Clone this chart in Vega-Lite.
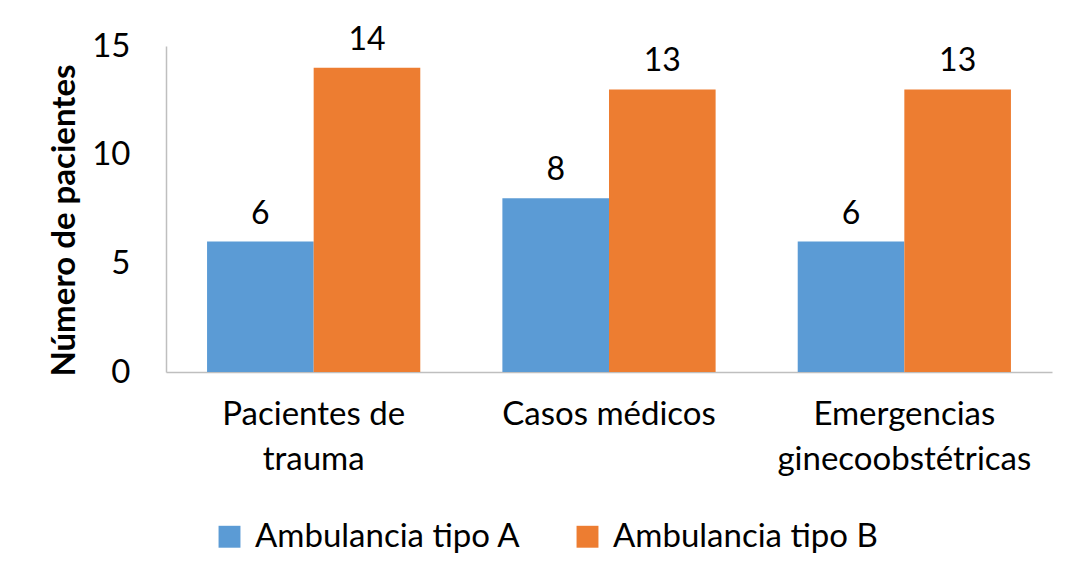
{
  "$schema": "https://vega.github.io/schema/vega-lite/v6.json",
  "width": 886,
  "height": 326,
  "autosize": {"type": "none"},
  "padding": {"left": 166, "top": 46, "right": 16, "bottom": 201},
  "background": "white",
  "config": {
    "view": {"stroke": null},
    "font": "Lato",
    "text": {"font": "Lato"}
  },
  "data": {
    "values": [
      {"categoria": "Pacientes de trauma", "tipo": "Ambulancia tipo A", "pacientes": 6},
      {"categoria": "Pacientes de trauma", "tipo": "Ambulancia tipo B", "pacientes": 14},
      {"categoria": "Casos médicos", "tipo": "Ambulancia tipo A", "pacientes": 8},
      {"categoria": "Casos médicos", "tipo": "Ambulancia tipo B", "pacientes": 13},
      {"categoria": "Emergencias ginecoobstétricas", "tipo": "Ambulancia tipo A", "pacientes": 6},
      {"categoria": "Emergencias ginecoobstétricas", "tipo": "Ambulancia tipo B", "pacientes": 13}
    ]
  },
  "encoding": {
    "x": {
      "field": "categoria",
      "type": "nominal",
      "sort": ["Pacientes de trauma", "Casos médicos", "Emergencias ginecoobstétricas"],
      "scale": {"paddingInner": 0.278, "paddingOuter": 0.139},
      "axis": {
        "title": null,
        "labelAngle": 0,
        "labelFont": "Lato",
        "labelFontSize": 33,
        "labelColor": "#000000",
        "labelPadding": 26,
        "labelLineHeight": 45,
        "labelLimit": 600,
        "labelExpr": "datum.label == 'Pacientes de trauma' ? ['Pacientes de', 'trauma'] : datum.label == 'Emergencias ginecoobstétricas' ? ['Emergencias', 'ginecoobstétricas'] : datum.label",
        "ticks": false,
        "domainColor": "#bfbfbf",
        "domainWidth": 1.5
      }
    },
    "xOffset": {"field": "tipo", "type": "nominal", "sort": ["Ambulancia tipo A", "Ambulancia tipo B"]},
    "y": {
      "field": "pacientes",
      "type": "quantitative",
      "scale": {"domain": [0, 15]},
      "axis": {
        "values": [0, 5, 10, 15],
        "grid": false,
        "ticks": false,
        "domainColor": "#bfbfbf",
        "domainWidth": 1.5,
        "labelFont": "Lato",
        "labelFontSize": 33,
        "labelColor": "#000000",
        "labelPadding": 36,
        "title": "Número de pacientes",
        "titleFont": "Lato",
        "titleFontSize": 33,
        "titleFontWeight": "bold",
        "titleColor": "#000000",
        "titlePadding": 10,
        "titleY": 174
      }
    }
  },
  "layer": [
    {
      "mark": {"type": "bar"},
      "encoding": {
        "color": {
          "field": "tipo",
          "type": "nominal",
          "scale": {"domain": ["Ambulancia tipo A", "Ambulancia tipo B"], "range": ["#5B9BD5", "#ED7D31"]},
          "legend": {
            "title": null,
            "orient": "none",
            "direction": "horizontal",
            "legendX": 47,
            "legendY": 474,
            "symbolType": "square",
            "symbolSize": 480,
            "symbolStrokeWidth": 0,
            "labelFont": "Lato",
            "labelFontSize": 33,
            "labelColor": "#000000",
            "labelOffset": 9,
            "columnPadding": 50,
            "labelLimit": 500
          }
        }
      }
    },
    {
      "mark": {"type": "text", "baseline": "bottom", "dy": -11, "fontSize": 32, "font": "Lato", "color": "#000000"},
      "encoding": {
        "text": {"field": "pacientes", "type": "quantitative"}
      }
    }
  ]
}
